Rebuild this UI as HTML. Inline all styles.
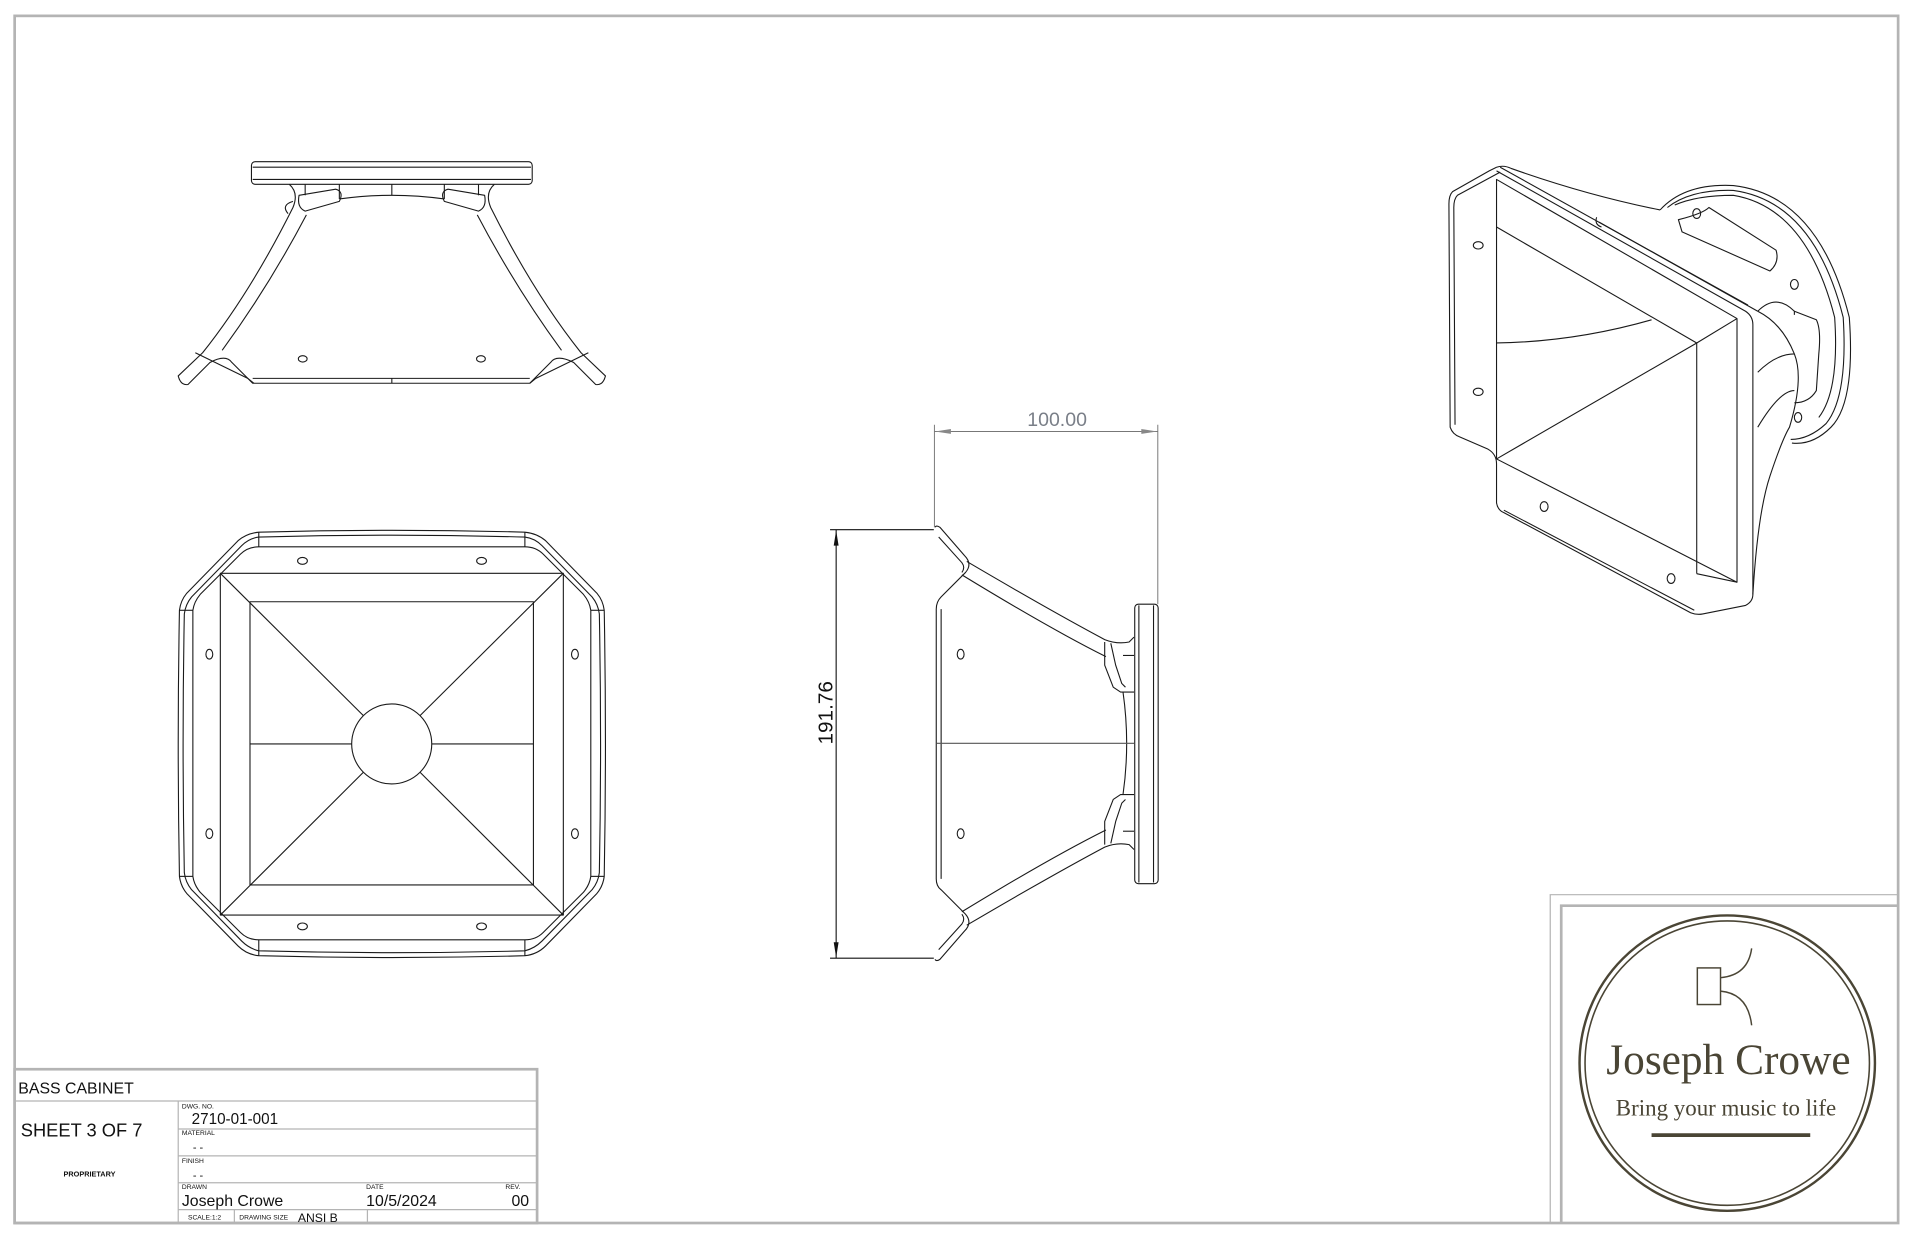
<!DOCTYPE html>
<html><head><meta charset="utf-8"><style>
html,body{margin:0;padding:0;background:#fff;}
svg{display:block;}
</style></head><body>
<svg width="1914" height="1234" viewBox="0 0 1568 1011" preserveAspectRatio="none" xmlns="http://www.w3.org/2000/svg">
<rect x="0" y="0" width="1568" height="1011" fill="#fff"/>
<rect x="12" y="13" width="1543" height="989" fill="none" stroke="#b4b4b4" stroke-width="2.2"/>

<g fill="none" stroke="#1a1a1a" stroke-width="0.9" stroke-linejoin="round">
<!-- ===== TOP VIEW ===== -->
<rect x="206" y="132.5" width="230" height="18.5" rx="3"/>
<line x1="207" y1="137" x2="435" y2="137"/>
<line x1="207" y1="147" x2="435" y2="147"/>
<path d="M237,151 Q245,158 240,170 Q205,240 166,289 L146,308 Q148,316 154,315 L172,297 Q185,290 190,297 L207,314 L434,314 L451,297 Q456,290 470,297 L488,315 Q494,316 496,308 L476,289 Q437,240 402,170 Q397,158 405,151"/>
<path d="M251,176 Q220,235 182,287"/>
<path d="M391,176 Q422,235 460,287"/>
<path d="M240,165 Q230,168 236,175"/>
<path d="M245,160 L275,155 Q282,157 278,165 L250,173 Q243,170 245,160 Z"/>
<path d="M397,160 L367,155 Q360,157 364,165 L392,173 Q399,170 397,160 Z"/>
<line x1="278" y1="151" x2="278" y2="163"/>
<line x1="364" y1="151" x2="364" y2="163"/>
<line x1="321" y1="151" x2="321" y2="160"/>
<path d="M278,163 Q321,157 364,163"/>
<line x1="250" y1="151" x2="250" y2="160"/>
<line x1="392" y1="151" x2="392" y2="160"/>
<path d="M160,289 L203,310 L208,314"/>
<path d="M482,289 L439,310 L434,314"/>
<line x1="207" y1="310" x2="434" y2="310"/>
<line x1="321" y1="310" x2="321" y2="314"/>
<ellipse cx="248" cy="294" rx="3.6" ry="2.6"/>
<ellipse cx="394" cy="294" rx="3.6" ry="2.6"/>

<!-- ===== FRONT VIEW ===== -->
<path d="M212,436 Q321,433 430,436 Q440,437 447,443 L489,486 Q494,492 495,500 Q497,609 495,718 Q494,726 489,732 L447,775 Q440,782 430,783 Q321,786 212,783 Q202,782 195,775 L153,732 Q148,726 147,718 Q145,609 147,500 Q148,492 153,486 L195,443 Q202,437 212,436 Z"/>
<path d="M212,440 Q321,437 430,440 Q438,441 444,447 L485,489 Q490,495 491,503 Q493,609 491,715 Q490,723 485,729 L444,771 Q438,777 430,779 Q321,782 212,779 Q204,777 198,771 L157,729 Q152,723 151,715 Q149,609 151,503 Q152,495 157,489 L198,447 Q204,441 212,440 Z"/>
<path d="M212,448 L430,448 Q439,448 445,454 L478,487 Q483,493 484,500 L484,718 Q483,725 478,731 L445,764 Q439,770 430,770 L212,770 Q203,770 197,764 L164,731 Q159,725 158,718 L158,500 Q159,493 164,487 L197,454 Q203,448 212,448 Z"/>
<line x1="212" y1="436" x2="212" y2="448"/><line x1="430" y1="436" x2="430" y2="448"/>
<line x1="212" y1="770" x2="212" y2="783"/><line x1="430" y1="770" x2="430" y2="783"/>
<line x1="147" y1="500" x2="158" y2="500"/><line x1="147" y1="718" x2="158" y2="718"/>
<line x1="484" y1="500" x2="495" y2="500"/><line x1="484" y1="718" x2="495" y2="718"/>
<rect x="180.5" y="469.7" width="281" height="280"/>
<rect x="204.8" y="493" width="232.2" height="232"/>
<line x1="180.5" y1="469.7" x2="297.7" y2="586.3"/>
<line x1="461.5" y1="469.7" x2="344.1" y2="586.3"/>
<line x1="180.5" y1="749.7" x2="297.7" y2="632.7"/>
<line x1="461.5" y1="749.7" x2="344.1" y2="632.7"/>
<line x1="204.8" y1="609.5" x2="288.1" y2="609.5"/>
<line x1="353.7" y1="609.5" x2="437" y2="609.5"/>
<circle cx="320.9" cy="609.5" r="32.8"/>
<ellipse cx="247.8" cy="459.5" rx="4" ry="2.8"/>
<ellipse cx="394.5" cy="459.5" rx="4" ry="2.8"/>
<ellipse cx="247.8" cy="759" rx="4" ry="2.8"/>
<ellipse cx="394.5" cy="759" rx="4" ry="2.8"/>
<ellipse cx="171.5" cy="536" rx="2.8" ry="4"/>
<ellipse cx="471" cy="536" rx="2.8" ry="4"/>
<ellipse cx="171.5" cy="683" rx="2.8" ry="4"/>
<ellipse cx="471" cy="683" rx="2.8" ry="4"/>

<!-- ===== SIDE VIEW ===== -->
<rect x="929.6" y="495" width="19.2" height="229" rx="3"/>
<line x1="933" y1="496" x2="933" y2="723"/>
<line x1="945" y1="496" x2="945" y2="723"/>
<path d="M766,432 Q767,430 770,432 L790,455 Q797,462 791,469 L771,489 Q767,493 767,499 L767,720 Q767,726 771,729 L791,749 Q797,756 790,763 L770,786 Q767,788 766,786"/>
<path d="M771,499 L771,720"/>
<path d="M769,440 L788,461 Q791,465 788,469"/>
<path d="M769,778 L788,757 Q791,753 788,749"/>
<path d="M792,460 Q860,500 905,524 Q915,528 925,526 L929,522"/>
<path d="M788,471 Q860,515 906,538"/>
<path d="M792,758 Q860,718 905,694 Q915,690 925,692 L929,696"/>
<path d="M788,747 Q860,703 906,680"/>
<path d="M905,526 L905,545 L912,563 L918,567 L929,567"/>
<path d="M910,527 L914,545 L919,560 L922,563"/>
<path d="M905,692 L905,673 L912,655 L918,651 L929,651"/>
<path d="M910,691 L914,673 L919,658 L922,655"/>
<line x1="920" y1="537" x2="929" y2="537"/>
<line x1="920" y1="681" x2="929" y2="681"/>
<path d="M920,567 Q926,609 920,651"/>
<line x1="767" y1="609" x2="929" y2="609" stroke="#555"/>
<ellipse cx="787" cy="536" rx="2.8" ry="4"/>
<ellipse cx="787" cy="683" rx="2.8" ry="4"/>

<!-- ===== ISO VIEW ===== -->
<path d="M1226,137 Q1232,135 1238,138 Q1300,160 1360,172"/>
<path d="M1360,172 Q1380,150 1420,152 Q1490,160 1515,260 Q1520,330 1500,350 Q1485,365 1468,363"/>
<path d="M1366,170 Q1385,155 1420,156 Q1486,165 1510,260 Q1514,325 1496,347 Q1482,360 1467,360"/>
<path d="M1372,168 Q1390,160 1420,160 Q1480,170 1503,260 Q1507,320 1490,342"/>
<path d="M1226,137 L1220,140 L1190,157 Q1187,160 1187,167 L1188,350 Q1190,356 1196,358 L1219,368 Q1226,372 1226,380 L1226,412 Q1227,418 1232,420 L1385,502 Q1390,504 1395,503 L1430,496 Q1436,493 1436,487 Q1440,420 1450,390 Q1460,360 1466,350 Q1478,310 1470,290 Q1460,265 1440,255"/>
<path d="M1229,141 L1194,160 Q1191,163 1191,170 L1192,348"/>
<path d="M1226,147 L1423,261 L1423,477 L1226,376 Z"/>
<path d="M1226,140 L1430,255 Q1436,259 1436,266 L1436,487"/>
<path d="M1229,137 L1432,250"/>
<line x1="1226" y1="186" x2="1390" y2="281"/>
<line x1="1390" y1="281" x2="1423" y2="261"/>
<line x1="1390" y1="281" x2="1390" y2="470"/>
<line x1="1390" y1="470" x2="1423" y2="477"/>
<line x1="1226" y1="376" x2="1390" y2="281"/>
<path d="M1226,281 Q1290,280 1353,262"/>
<path d="M1232,418 L1388,500"/>
<path d="M1310,182 L1440,255"/>
<path d="M1308,178 Q1306,184 1312,186"/>
<path d="M1375,180 Q1395,175 1400,170 L1455,205 Q1458,215 1450,222 L1378,190 Z"/>
<path d="M1440,255 Q1455,240 1470,255 L1470,258"/>
<path d="M1470,255 L1488,262 Q1492,270 1490,290 L1488,320 Q1482,330 1470,330"/>
<path d="M1440,305 Q1455,290 1470,290"/>
<path d="M1440,350 Q1458,320 1470,320"/>
<ellipse cx="1211" cy="201" rx="4" ry="3"/>
<ellipse cx="1211" cy="321" rx="4" ry="3"/>
<ellipse cx="1265" cy="415" rx="3.2" ry="4"/>
<ellipse cx="1369" cy="474" rx="3.2" ry="4"/>
<ellipse cx="1390" cy="175" rx="3.2" ry="4"/>
<ellipse cx="1470" cy="233" rx="3.2" ry="4"/>
<ellipse cx="1473" cy="342" rx="3" ry="4"/>
</g>

<!-- ===== DIMENSIONS ===== -->
<g stroke="#777" stroke-width="0.8" fill="none">
<line x1="765.5" y1="348" x2="765.5" y2="432"/>
<line x1="948.5" y1="348" x2="948.5" y2="495"/>
<line x1="765.5" y1="353.5" x2="948.5" y2="353.5"/>
</g>
<g fill="#888">
<polygon points="766,353.5 779,351.5 779,355.5"/>
<polygon points="948,353.5 935,351.5 935,355.5"/>
</g>
<text x="866" y="349" font-family="Liberation Sans, sans-serif" font-size="16" fill="#7a7f88" text-anchor="middle">100.00</text>
<g stroke="#111" stroke-width="0.9" fill="none">
<line x1="680" y1="434" x2="765" y2="434"/>
<line x1="680" y1="785" x2="765" y2="785"/>
<line x1="685" y1="434" x2="685" y2="785"/>
</g>
<g fill="#111">
<polygon points="685,434.5 683,447 687,447"/>
<polygon points="685,784.5 683,772 687,772"/>
</g>
<text transform="translate(682,584) rotate(-90)" font-family="Liberation Sans, sans-serif" font-size="17" fill="#111" text-anchor="middle">191.76</text>

<!-- ===== TITLE BLOCK ===== -->
<g stroke="#b4b4b4" fill="none">
<rect x="12" y="876" width="428" height="126" stroke-width="2.2"/>
<g stroke-width="1">
<line x1="12" y1="902" x2="440" y2="902"/>
<line x1="146" y1="902" x2="146" y2="1002"/>
<line x1="146" y1="925" x2="440" y2="925"/>
<line x1="146" y1="947" x2="440" y2="947"/>
<line x1="146" y1="969" x2="440" y2="969"/>
<line x1="146" y1="991" x2="440" y2="991"/>
<line x1="192" y1="991" x2="192" y2="1002"/>
<line x1="301" y1="991" x2="301" y2="1002"/>
</g>
</g>
<g font-family="Liberation Sans, sans-serif" fill="#111">
<text x="15" y="896" font-size="13">BASS CABINET</text>
<text x="17" y="931" font-size="15">SHEET 3 OF 7</text>
<text x="52" y="964" font-size="6" font-weight="bold">PROPRIETARY</text>
<text x="149" y="908" font-size="5.5">DWG. NO.</text>
<text x="157" y="921" font-size="12.5">2710-01-001</text>
<text x="149" y="930" font-size="5.5">MATERIAL</text>
<text x="158" y="943" font-size="9">- -</text>
<text x="149" y="953" font-size="5.5">FINISH</text>
<text x="158" y="966" font-size="9">- -</text>
<text x="149" y="974" font-size="5.5">DRAWN</text>
<text x="149" y="988" font-size="13">Joseph Crowe</text>
<text x="300" y="974" font-size="5.5">DATE</text>
<text x="300" y="988" font-size="13">10/5/2024</text>
<text x="414" y="974" font-size="5.5">REV.</text>
<text x="419" y="988" font-size="13">00</text>
<text x="154" y="999" font-size="5.5">SCALE:1:2</text>
<text x="196" y="999" font-size="5.5">DRAWING SIZE</text>
<text x="244" y="1001" font-size="10">ANSI B</text>
</g>

<!-- ===== LOGO BLOCK ===== -->
<g stroke="#b4b4b4" fill="none">
<polyline points="1270,1002 1270,733 1555,733" stroke-width="1"/>
<polyline points="1279,1002 1279,742 1555,742" stroke-width="2.2"/>
</g>
<g stroke="#4a4535" fill="none">
<circle cx="1415" cy="871" r="121" stroke-width="2"/>
<circle cx="1415" cy="871" r="116.5" stroke-width="1.3"/>
<rect x="1390.5" y="793" width="19" height="30" stroke-width="1.2"/>
<path d="M1409.5,801 Q1432,799 1435,777" stroke-width="1.2"/>
<path d="M1409.5,812 Q1432,814 1435,840" stroke-width="1.2"/>
<line x1="1353" y1="930" x2="1483" y2="930" stroke-width="3"/>
</g>
<text x="1416" y="880" font-family="Liberation Serif, serif" font-size="35.5" fill="#4a4535" text-anchor="middle">Joseph Crowe</text>
<text x="1414" y="914" font-family="Liberation Serif, serif" font-size="18.8" fill="#4a4535" text-anchor="middle">Bring your music to life</text>
</svg>
</body></html>
